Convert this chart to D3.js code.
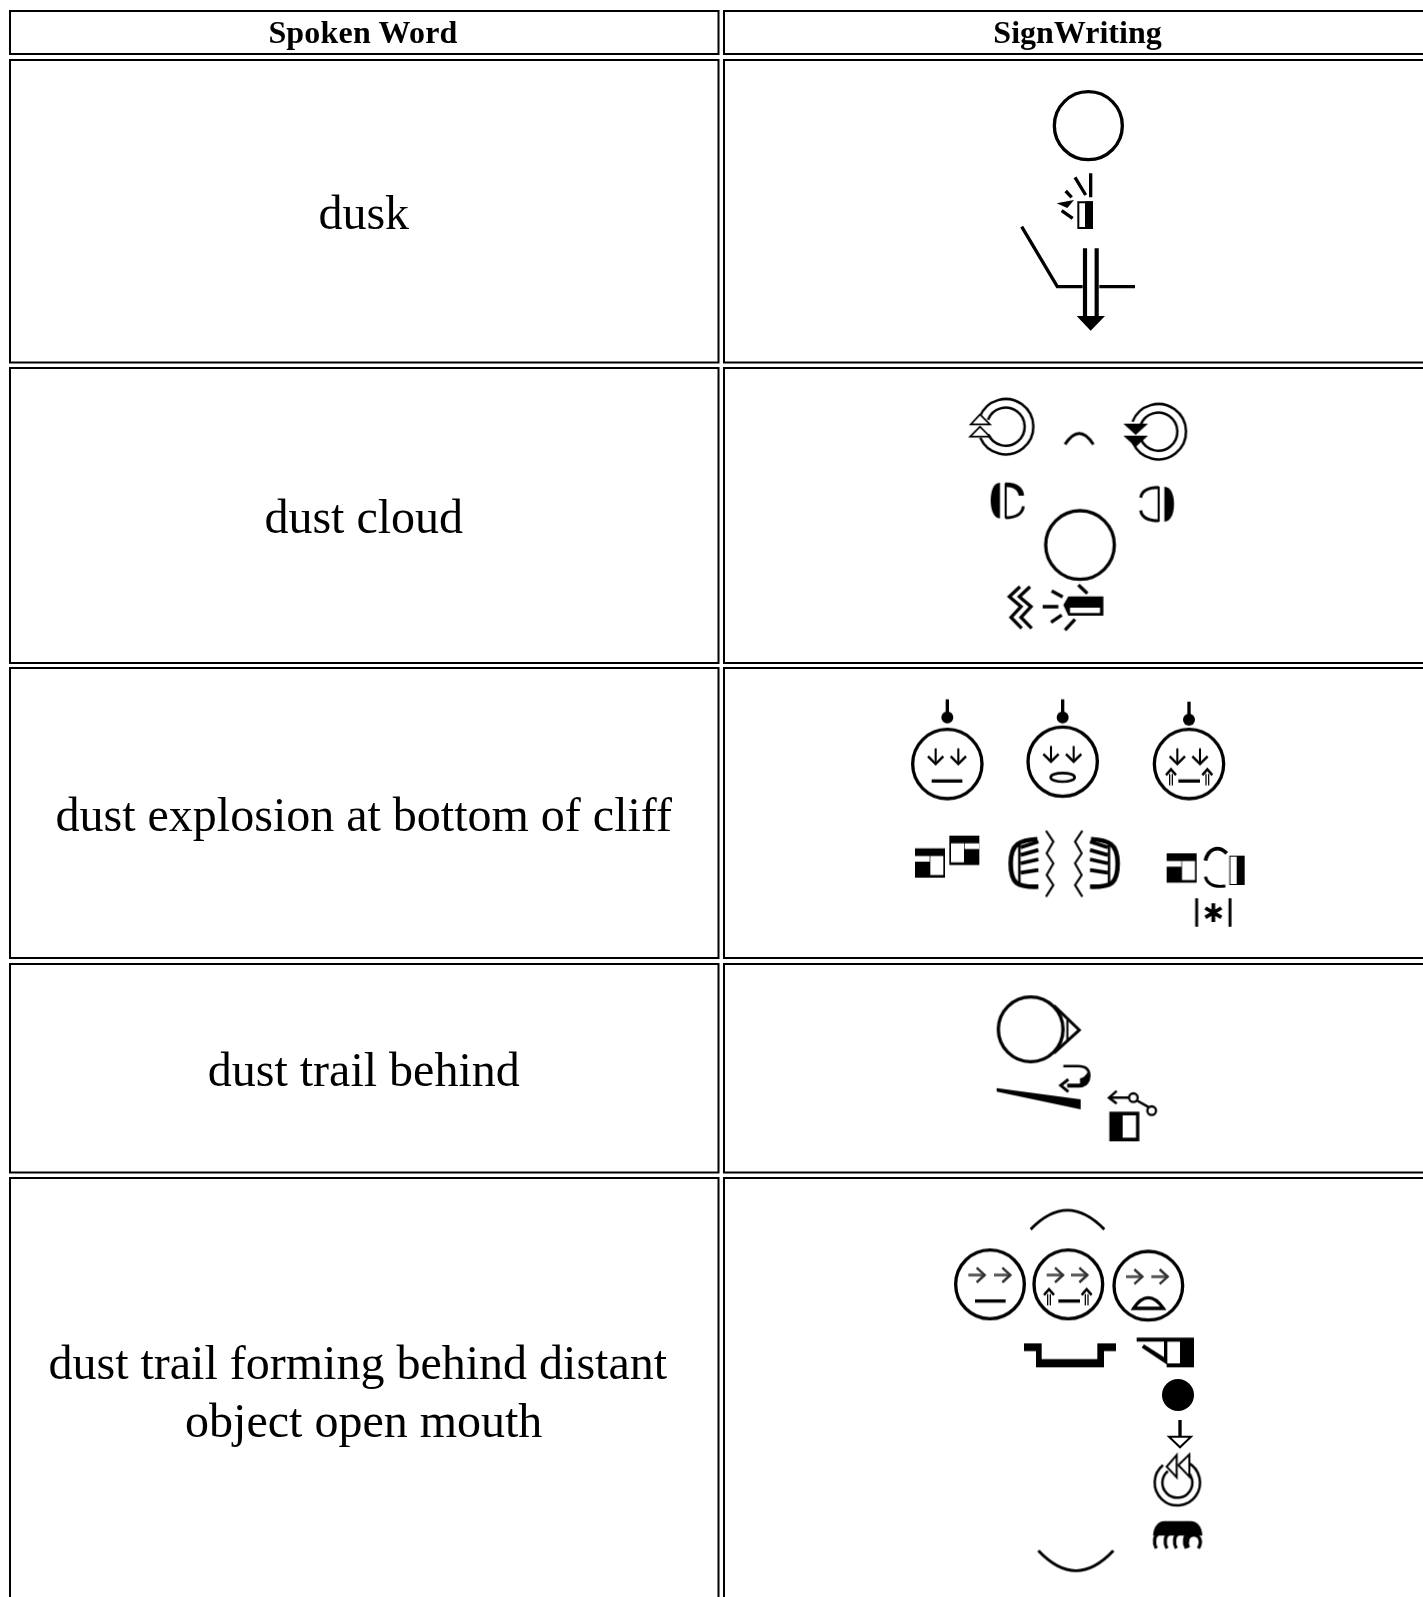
<!DOCTYPE html>
<html>
<head>
<meta charset="utf-8">
<title>SignWriting dictionary</title>
<style>
  html, body { margin: 0; padding: 0; background: #fff; overflow: hidden; }
  svg { display: block; }
</style>
</head>
<body>
<div id="chart-area"></div>
<script src="https://d3js.org/d3.v7.min.js"></script>
<script>
// table content
const columns = ["Spoken Word", "SignWriting"]
const spokenWords = [
  ["dusk"],
  ["dust cloud"],
  ["dust explosion at bottom of cliff"],
  ["dust trail behind"],
  ["dust trail forming behind distant", "object open mouth"]
]

const WIDTH = 1423
const HEIGHT = 1597
const COLS = [{ x0: 10, x1: 718.5 }, { x0: 724, x1: 1460 }]
const ROWS = [
  { y0: 11, y1: 54, base: 43 },
  { y0: 60, y1: 362.5, base: 228.5 },
  { y0: 368, y1: 663, base: 532.5 },
  { y0: 668, y1: 958, base: 830.5 },
  { y0: 964, y1: 1172.5, base: 1085.5 },
  { y0: 1178, y1: 1640, base: 1378.5 }
]

const svg = d3.select("#chart-area").append("svg")
    .attr("width", WIDTH)
    .attr("height", HEIGHT)

const defs = svg.append("defs")
defs.append("filter").attr("id", "soft")
    .append("feGaussianBlur").attr("stdDeviation", 0.6)
defs.append("filter").attr("id", "softText")
    .append("feGaussianBlur").attr("stdDeviation", 0.35)

// cells
const cells = ROWS.flatMap(r => COLS.map(c => ({ r, c })))
svg.selectAll("rect.cell").data(cells).join("rect")
    .attr("class", "cell")
    .attr("x", d => d.c.x0)
    .attr("y", d => d.r.y0)
    .attr("width", d => d.c.x1 - d.c.x0)
    .attr("height", d => d.r.y1 - d.r.y0)
    .attr("fill", "#fff")
    .attr("stroke", "#000")
    .attr("stroke-width", 2)

// header + words
const mid = c => (c.x0 + c.x1) / 2
const words = svg.append("g").attr("filter", "url(#softText)")

words.selectAll("text.head").data(columns).join("text")
    .attr("class", "head")
    .attr("x", (d, i) => i == 0 ? 363 : 1077.5)
    .attr("y", ROWS[0].base)
    .attr("text-anchor", "middle")
    .attr("font-family", "'Liberation Serif', serif")
    .attr("font-weight", "bold")
    .attr("font-size", "32px")
    .style("letter-spacing", (d, i) => i == 0 ? "0.2px" : null)
    .text(d => d)

spokenWords.forEach((lines, i) => {
  lines.forEach((line, j) => {
    words.append("text")
        // two line cell keeps a trailing space on its first line
        .attr("x", mid(COLS[0]) - 0.5 - (lines.length > 1 && j == 0 ? 6 : 0))
        .attr("y", ROWS[i + 1].base + j * 58)
        .attr("text-anchor", "middle")
        .attr("font-family", "'Liberation Serif', serif")
        .attr("font-size", "48px")
        .text(line)
  })
})

// glyph helpers, everything inside a cluster is drawn at 3x
const marks = svg.append("g").attr("filter", "url(#soft)")

function cluster(x, y) {
  return marks.append("g").attr("transform", `translate(${x},${y}) scale(${1 / 3})`)
}
function stroke(g, d, w = 8) {
  return g.append("path").attr("d", d).attr("fill", "none").attr("stroke", "#000")
      .attr("stroke-width", w * 1.25).attr("stroke-linecap", "butt").attr("stroke-linejoin", "miter")
}
function solid(g, d, fill = "#000") {
  return g.append("path").attr("d", d).attr("fill", fill)
}
function outlined(g, d, w = 6) {
  return g.append("path").attr("d", d).attr("fill", "#fff").attr("stroke", "#000").attr("stroke-width", w)
}
function ring(g, cx, cy, r, w = 10, fill = "none") {
  return g.append("circle").attr("cx", cx).attr("cy", cy).attr("r", r)
      .attr("fill", fill).attr("stroke", "#000").attr("stroke-width", w)
}
const arc = d3.arc()
function ringArc(g, cx, cy, r, a0, a1, w = 6) {
  const d = arc({ innerRadius: r, outerRadius: r, startAngle: a0, endAngle: a1 })
  return stroke(g.append("g").attr("transform", `translate(${cx},${cy})`), d, w)
}
function downEye(g, x, y) {
  stroke(g, `M${x},${y}V${y + 44}`, 5)
  stroke(g, `M${x - 23},${y + 24}L${x},${y + 47}L${x + 23},${y + 24}`, 6)
}
function rightEye(g, x, y) {
  stroke(g, `M${x},${y}H${x + 50}`, 7).attr("stroke", "#555")
  stroke(g, `M${x + 25},${y - 22}L${x + 49},${y}L${x + 25},${y + 22}`, 6).attr("stroke", "#333")
}
function cheekUp(g, x, y) {
  stroke(g, `M${x - 4},${y + 14}V${y + 48}M${x + 4},${y + 14}V${y + 48}`, 3)
  stroke(g, `M${x - 15},${y + 17}L${x},${y}L${x + 15},${y + 17}`, 6)
}
function pin(g, x, y) {
  stroke(g, `M${x},${y}V${y + 42}`, 8)
  g.append("circle").attr("cx", x).attr("cy", y + 54).attr("r", 18)
}
// square hand with thumb bar
function squareHand(g, x, y, flip) {
  const h = g.append("g").attr("transform", flip
    ? `translate(${x + 90},${y}) scale(-1,1)` : `translate(${x},${y})`)
  solid(h, "M0,0H90V88H0Z")
  solid(h, "M0,23H44V40H0Z", "#fff")
  solid(h, "M46,23H85V80H46Z", "#fff")
}

// row 1: dusk
{
  const g = cluster(1000, 80)
  ring(g, 265, 137, 102)
  stroke(g, "M272,280V352M225,292L257,345M197,333L215,352M185,392L218,415", 8)
  solid(g, "M170,370L222,360L202,384Z")
  outlined(g, "M235,367H276V444H235Z", 6)
  solid(g, "M255,364H279V447H255Z")
  stroke(g, "M65,440L172,620H248M298,620H405", 8)
  stroke(g, "M255,505V712M290,505V712", 10)
  solid(g, "M230,708H315L272,752Z")
}

// row 2: dust cloud
{
  const g = cluster(950, 385)
  ringArc(g, 167, 125, 83, -1.2, 4.3, 6)
  ringArc(g, 167, 125, 57, -1.2, 4.3, 6)
  outlined(g, "M90,88L62,118H120Z", 5)
  outlined(g, "M90,125L60,155H120Z", 5)

  ringArc(g, 625, 140, 83, -1.2, 4.3, 6)
  ringArc(g, 625, 140, 57, -1.2, 4.3, 6)
  solid(g, "M520,116H594L557,150Z")
  solid(g, "M520,152H594L557,186Z")

  stroke(g, "M345,178Q388,112 430,178", 7)

  solid(g, "M150,293C130,293 122,320 122,346C122,372 130,400 150,400Z")
  stroke(g, "M167,294V400", 5)
  solid(g, "M167,292C205,292 222,310 222,332L206,332C204,316 190,306 167,306Z")
  stroke(g, "M167,398C200,398 217,385 220,364", 7)

  solid(g, "M643,305C663,305 672,330 672,357C672,385 663,410 643,410Z")
  stroke(g, "M626,305V410", 5)
  stroke(g, "M626,307C593,307 575,318 572,338", 7)
  stroke(g, "M626,407C593,407 575,396 572,376", 7)

  ring(g, 390, 480, 103)

  stroke(g, "M210,605L178,635L213,665L183,697L215,730", 8)
  stroke(g, "M240,605L208,635L243,665L213,697L245,730", 8)
  stroke(g, "M305,618L338,636M278,665H325M303,712L335,690M345,735L375,703M385,600L412,625", 8)
  solid(g, "M340,660L355,634H460V692H355Z")
  solid(g, "M360,668H450V684H360Z", "#fff")
}

// row 3: dust explosion
{
  const g = cluster(890, 690)
  ;[172, 518, 897].forEach((x, i) => {
    const cy = i == 1 ? 215 : 222
    ring(g, x, cy, 104)
    pin(g, x, i == 2 ? 35 : 28)
    const ey = i == 1 ? 168 : 175
    downEye(g, x - 35, ey)
    downEye(g, x + 33, ey)
  })
  stroke(g, "M125,273H217", 8)
  g.append("ellipse").attr("cx", 518).attr("cy", 262).attr("rx", 36).attr("ry", 13)
      .attr("fill", "#fff").attr("stroke", "#000").attr("stroke-width", 8)
  stroke(g, "M865,273H930", 8)
  cheekUp(g, 843, 238)
  cheekUp(g, 952, 238)

  squareHand(g, 75, 475, false)
  squareHand(g, 178, 437, true)
  squareHand(g, 830, 490, false)

  const claw = (flip) => {
    const h = g.append("g")
    if (flip) h.attr("transform", "translate(1045,0) scale(-1,1)")
    stroke(h, "M442,447C390,450 362,460 362,520C362,580 380,592 445,590", 11)
    stroke(h, "M388,462V588", 6)
    stroke(h, "M392,472L445,455M392,495L445,480M392,520L445,508M392,548L445,540", 9)
  }
  claw(false)
  claw(true)
  const zig = "M468,422L490,455L470,490L490,520L470,555L490,585L468,620"
  stroke(g, zig, 5)
  stroke(g.append("g").attr("transform", "translate(1045,0) scale(-1,1)"), zig, 5)

  stroke(g, "M946,512C955,475 985,465 1010,490", 9)
  stroke(g, "M946,560C952,585 975,592 1006,588", 7)
  solid(g, "M1018,497H1064V585H1018Z")
  solid(g, "M1021,500H1040V582H1021Z", "#fff")
  stroke(g, "M920,625V710M1020,625V710", 7)
  stroke(g, "M970,640V696M946,654L994,682M994,654L946,682", 9)
}

// row 4: dust trail behind
{
  const g = cluster(980, 985)
  ring(g, 152, 133, 97)
  stroke(g, "M222,62L298,135L222,204", 7)
  stroke(g, "M262,105V165", 5)
  solid(g, "M50,309L302,343V373L50,320Z")
  stroke(g, "M250,243H295C322,243 328,258 328,272C328,290 318,302 300,302H262", 6)
  solid(g, "M300,280C312,278 318,270 322,262C334,280 322,308 298,308H262V296H300Z")
  stroke(g, "M265,283L242,301L265,320", 7)
  stroke(g, "M410,318L387,338L410,356M387,338H447M470,346L505,366", 6)
  ring(g, 460, 338, 13, 7)
  ring(g, 515, 377, 13, 7)
  solid(g, "M388,380H478V469H388Z")
  solid(g, "M428,391H468V458H428Z", "#fff")
}

// row 5: dust trail forming
{
  const g = cluster(940, 1195)
  stroke(g, "M272,103Q382,-12 493,103", 7)
  ;[[150, 268], [385, 268], [625, 272]].forEach(d => ring(g, d[0], d[1], 103))
  rightEye(g, 85, 240)
  rightEye(g, 162, 240)
  rightEye(g, 320, 240)
  rightEye(g, 393, 240)
  rightEye(g, 558, 245)
  rightEye(g, 634, 245)
  stroke(g, "M105,318H197", 8)
  stroke(g, "M355,318H420", 8)
  cheekUp(g, 327, 283)
  cheekUp(g, 440, 283)
  outlined(g, "M581,340C595,318 610,308 625,308C640,308 655,318 670,340Z", 10)
  solid(g, "M252,445H305V492H472V445H528V468H492V517H288V468H252Z")
  solid(g, "M590,428H762V517H680V508L605,458L612,448L672,486V440H590Z")
  solid(g, "M682,440H720V505H682Z", "#fff")

  const h = cluster(1020, 1370)
  h.append("circle").attr("cx", 474).attr("cy", 75).attr("r", 48)
  stroke(h, "M480,150V200", 8)
  outlined(h, "M447,200H513L480,232Z", 6)
  ringArc(h, 472, 338, 68, 0.5, 5.6, 6)
  ringArc(h, 472, 338, 45, 0.5, 5.6, 6)
  outlined(h, "M470,255V322L440,290Z", 6)
  outlined(h, "M508,253V320L475,285Z", 6)
  // claw: dome plus curled fingers
  solid(h, "M399,497C400,470 415,453 432,453H512C532,453 546,470 547,497Z")
  ;[403, 435, 463, 493].forEach(x => {
    stroke(h, `M${x + 12},490C${x},498 ${x - 4},518 ${x + 6},535`, 8)
  })
  stroke(h, "M505,533C497,512 505,495 520,495C540,495 547,515 535,535", 8)
  stroke(h, "M55,542Q168,662 280,542", 7)
}
</script>
</body>
</html>
